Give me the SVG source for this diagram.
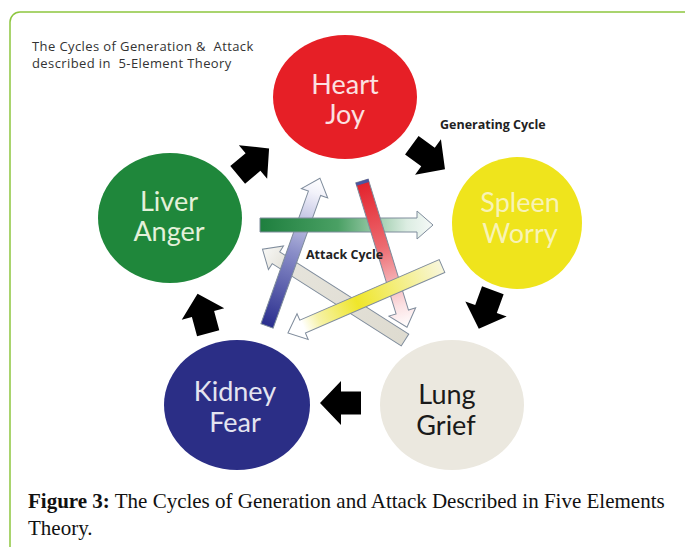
<svg xmlns="http://www.w3.org/2000/svg" width="685" height="547" viewBox="0 0 685 547">
<style>
.lbl{font-family:Lato,"Open Sans","Liberation Sans",sans-serif;font-size:27px;text-anchor:middle}
.small{font-family:"Open Sans",Lato,"Liberation Sans",sans-serif;font-size:12.5px;fill:#222;white-space:pre}
.ttl{font-size:13px;letter-spacing:0.4px;fill:#333}
.bold{font-weight:bold}
.cap{font-family:"Liberation Serif","Times New Roman",serif;font-size:21px;fill:#111}
.blk{fill:#000}
.atk{stroke:#7f8c9c;stroke-width:1}
</style>
<defs>
<path id="blockArrow" d="M0,-21 L22,0 L11.5,0 L11.5,20 L-11.5,20 L-11.5,0 L-22,0 Z"/>
<linearGradient id="gGreen" x1="0" y1="0" x2="1" y2="0">
<stop offset="0" stop-color="#1e7f3e"/><stop offset="0.45" stop-color="#4aa064"/><stop offset="0.85" stop-color="#dcede2"/><stop offset="1" stop-color="#f6f9f8"/>
</linearGradient>
<linearGradient id="gBlue" x1="0" y1="0" x2="1" y2="0">
<stop offset="0" stop-color="#2a2e8e"/><stop offset="0.5" stop-color="#8a8ec8"/><stop offset="0.9" stop-color="#f2f2fa"/><stop offset="1" stop-color="#ffffff"/>
</linearGradient>
<linearGradient id="gRed" x1="0" y1="0" x2="1" y2="0">
<stop offset="0" stop-color="#e3202a"/><stop offset="0.45" stop-color="#ec6a70"/><stop offset="0.85" stop-color="#fbe0e2"/><stop offset="1" stop-color="#ffffff"/>
</linearGradient>
<linearGradient id="gYellow" x1="0" y1="0" x2="1" y2="0">
<stop offset="0" stop-color="#f8f6dc"/><stop offset="0.55" stop-color="#efe62a"/><stop offset="0.8" stop-color="#f6f2a8"/><stop offset="0.9" stop-color="#ffffff"/><stop offset="1" stop-color="#ffffff"/>
</linearGradient>
<linearGradient id="gGrey" x1="0" y1="0" x2="1" y2="0">
<stop offset="0" stop-color="#dedbd0"/><stop offset="0.85" stop-color="#e6e4dc"/><stop offset="1" stop-color="#f8f8f6"/>
</linearGradient>
</defs>
<rect x="0" y="0" width="685" height="547" fill="#ffffff"/>
<rect x="10" y="12" width="700" height="560" rx="10" fill="none" stroke="#8dc63f" stroke-width="1.5"/>

<g id="title">
<text class="small ttl" x="32" y="51" xml:space="preserve">The Cycles of Generation &amp;  Attack</text>
<text class="small ttl" x="32" y="68" xml:space="preserve">described in  5-Element Theory</text>
</g>

<g id="connectors">
<g id="attack-lung-liver" transform="translate(405,340) rotate(-147.5)">
<polygon class="atk" fill="url(#gGrey)" points="0,-7 153,-7 153,-14 169,0 153,14 153,7 0,7"/>
</g>
<g id="attack-kidney-heart" transform="translate(267,326) rotate(-70.3)">
<polygon class="atk" fill="url(#gBlue)" points="0,-6.5 141,-6.5 141,-14 157,0 141,14 141,6.5 0,6.5"/>
</g>
<g id="attack-liver-spleen" transform="translate(260,225)">
<polygon class="atk" fill="url(#gGreen)" points="0,-7 157,-7 157,-14 173,0 157,14 157,7 0,7"/>
</g>
<g id="attack-heart-lung" transform="translate(362,181) rotate(72.9)">
<polygon class="atk" fill="url(#gRed)" points="0,-6.5 137,-6.5 137,-14 153,0 137,14 137,6.5 0,6.5"/>
<rect x="0" y="-6.5" width="3" height="13" fill="#4b56a0"/>
</g>
<g id="attack-spleen-kidney" transform="translate(442,266) rotate(156.5)">
<polygon class="atk" fill="url(#gYellow)" points="0,-7 152,-7 152,-14 168,0 152,14 152,7 0,7"/>
</g>
<use href="#blockArrow" class="blk" transform="translate(253,162) rotate(50)"/>
<use href="#blockArrow" class="blk" transform="translate(428,157) rotate(126)"/>
<use href="#blockArrow" class="blk" transform="translate(486,309) rotate(200)"/>
<use href="#blockArrow" class="blk" transform="translate(341,403) rotate(270)"/>
<use href="#blockArrow" class="blk" transform="translate(203,314) rotate(-15)"/>
<text class="small bold" x="440" y="129">Generating Cycle</text>
<text class="small bold" x="306" y="259">Attack Cycle</text>
</g>

<g id="heart">
<ellipse cx="345" cy="97" rx="72" ry="62" fill="#e61f26"/>
<text class="lbl" x="345" y="94" fill="#fbe1e1">Heart</text>
<text class="lbl" x="345" y="124" fill="#fbe1e1">Joy</text>
</g>
<g id="liver">
<ellipse cx="170" cy="218" rx="72" ry="65" fill="#1f873b"/>
<text class="lbl" x="169" y="211" fill="#e4f1da">Liver</text>
<text class="lbl" x="169" y="241" fill="#e4f1da">Anger</text>
</g>
<g id="spleen">
<ellipse cx="517" cy="223" rx="65" ry="66" fill="#efe41c"/>
<text class="lbl" x="520" y="212" fill="#f8f3b6">Spleen</text>
<text class="lbl" x="520" y="243" fill="#f8f3b6">Worry</text>
</g>
<g id="lung">
<ellipse cx="452" cy="405" rx="72" ry="65" fill="#ebe8df"/>
<text class="lbl" x="447" y="404" fill="#1a1a1a">Lung</text>
<text class="lbl" x="446" y="435" fill="#1a1a1a">Grief</text>
</g>
<g id="kidney">
<ellipse cx="237" cy="405" rx="73" ry="65" fill="#2b2e86"/>
<text class="lbl" x="235" y="401" fill="#e4e4f0">Kidney</text>
<text class="lbl" x="235" y="432" fill="#e4e4f0">Fear</text>
</g>

<g id="caption">
<text class="cap" x="28" y="508"><tspan font-weight="bold">Figure 3:</tspan> The Cycles of Generation and Attack Described in Five Elements</text>
<text class="cap" x="28" y="535">Theory.</text>
</g>
</svg>
